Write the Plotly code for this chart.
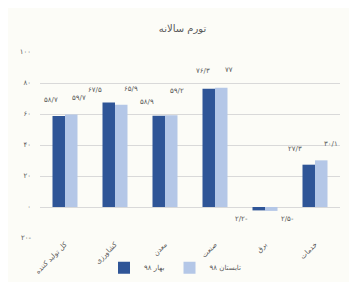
import plotly.graph_objects as go

categories = ["کل تولید کننده", "کشاورزی", "معدن", "صنعت", "برق", "خدمات"]
series_names = ["بهار ۹۸", "تابستان ۹۸"]
spring = [58.7, 67.5, 58.9, 76.3, -2.2, 27.3]
summer = [59.7, 65.9, 59.2, 77.0, -2.5, 30.1]
y_ticks = [-20, 0, 20, 40, 60, 80, 100]

def fa(s):
    d = "۰۱۲۳۴۵۶۷۸۹"
    out = ""
    for ch in s:
        if ch.isdigit():
            out += d[int(ch)]
        elif ch == ".":
            out += "/"
        else:
            out += ch
    return out

def lab(v):
    s = ("%.1f" % abs(v)).rstrip("0").rstrip(".")
    return fa(s) + ("-" if v < 0 else "")

font = "DejaVu Sans"
gray = "#595959"
colors = ["#2f5597", "#b4c7e7"]

fig = go.Figure()
for name, vals, c in zip(series_names, [spring, summer], colors):
    fig.add_trace(go.Bar(x=categories, y=vals, name=name, marker_color=c,
                         marker_line_width=0))

# label offsets (pixels): (xshift, yshift) per bar
off_spring = [(-8, 16), (-14, 12), (-12, 14), (-6, 18), (-18, -12), (-14, 16)]
off_summer = [(8, 16), (10, 16), (6, 24), (8, 18), (16, -12), (10, 16)]
annotations = []
for vals, offs, base in [(spring, off_spring, -6), (summer, off_summer, 6)]:
    for cat, v, (dx, dy) in zip(categories, vals, offs):
        annotations.append(dict(x=cat, y=max(v, 0), text=lab(v), showarrow=False,
                                xshift=base + dx, yshift=dy,
                                font=dict(family=font, size=7, color=gray)))

fig.update_layout(
    width=349, height=274,
    margin=dict(l=32, r=17, t=44, b=44, autoexpand=False),
    paper_bgcolor="#fcfcf7", plot_bgcolor="#fcfcf7",
    title=dict(text="تورم سالانه", x=0.5, xanchor="center", y=0.925, yanchor="middle",
               font=dict(family=font, size=10, color=gray)),
    barmode="group", bargap=0.5, bargroupgap=0,
    showlegend=True,
    legend=dict(orientation="h", x=0.45, xanchor="center", y=-0.16, yanchor="middle",
                font=dict(family=font, size=7, color=gray), itemwidth=30,
                bgcolor="rgba(0,0,0,0)"),
    annotations=annotations,
    font=dict(family=font, size=7, color=gray),
)
fig.update_xaxes(tickangle=-45, tickfont=dict(family=font, size=7, color=gray),
                 showgrid=False, showline=False, ticks="", automargin=False)
fig.update_yaxes(range=[-20, 100], tickvals=y_ticks, ticktext=[fa(str(t)) if t >= 0 else fa(str(-t)) + "-" for t in y_ticks],
                 showgrid=True, gridcolor="#d9d9d9", gridwidth=1, zeroline=False, automargin=False,
                 tickfont=dict(family=font, size=7, color=gray), ticks="", ticklabelstandoff=8)

fig.write_html("out.html")
